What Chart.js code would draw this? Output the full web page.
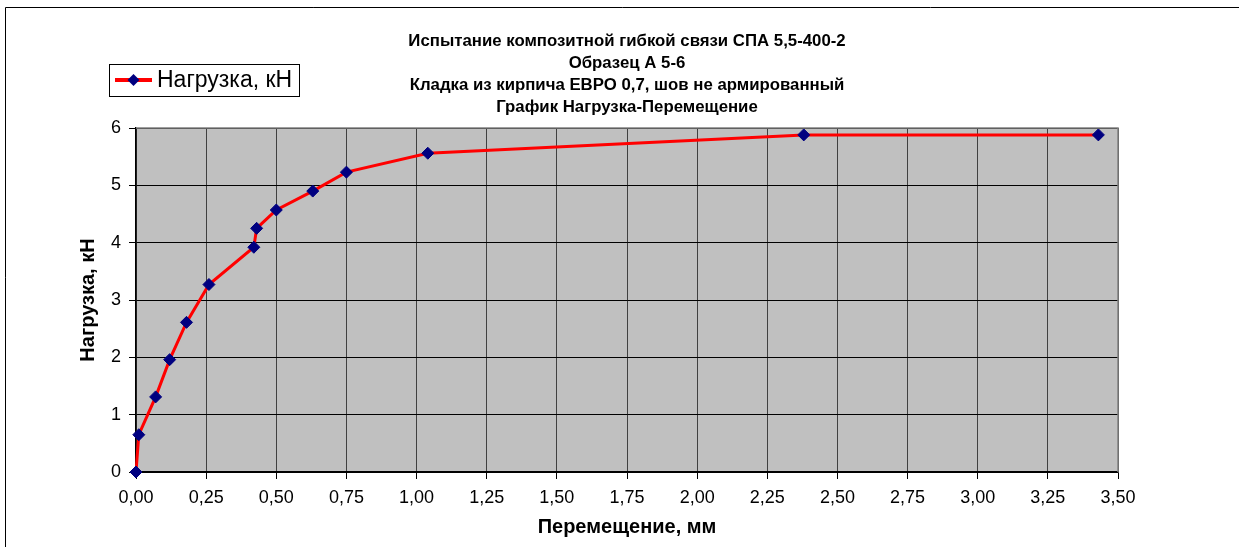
<!DOCTYPE html>
<html lang="ru">
<head>
    <meta charset="UTF-8">
    <title>График Нагрузка-Перемещение</title>
    <style>
        body { margin: 0; background: #fff; }
        #wrap { width: 1239px; height: 547px; }
    </style>
</head>
<body>
    <div id="wrap">
        <canvas id="grafico" width="1239" height="547"></canvas>
    </div>

<script src="https://cdn.jsdelivr.net/npm/chart.js"></script>
<script>
    // dados
    const perem = [0, 0.01, 0.07, 0.12, 0.18, 0.26, 0.42, 0.43, 0.50, 0.63, 0.75, 1.04, 2.38, 3.43];
    const nagruzka = [0, 0.65, 1.31, 1.96, 2.61, 3.27, 3.92, 4.25, 4.57, 4.90, 5.23, 5.56, 5.88, 5.88];

    const titulo = [
        'Испытание композитной гибкой связи СПА 5,5-400-2',
        'Образец А 5-6',
        'Кладка из кирпича ЕВРО 0,7, шов не армированный',
        'График Нагрузка-Перемещение'
    ];
    const nomeSerie = 'Нагрузка, кН';
    const tituloX = 'Перемещение, мм';
    const tituloY = 'Нагрузка, кН';

    const fonte = '"Liberation Sans", Arial, Helvetica, sans-serif';

    const pontos = perem.map((x, i) => ({ x: x, y: nagruzka[i] }));

    // fundo cinza, moldura e bordas da área do gráfico
    const fundoPlugin = {
        id: 'fundo',
        beforeDraw(chart) {
            const ctx = chart.ctx;
            const a = chart.chartArea;
            ctx.save();
            ctx.fillStyle = '#fff';
            ctx.fillRect(0, 0, chart.width, chart.height);
            ctx.strokeStyle = '#000';
            ctx.lineWidth = 1;
            ctx.beginPath();
            ctx.moveTo(5.5, chart.height);
            ctx.lineTo(5.5, 7.5);
            ctx.lineTo(chart.width, 7.5);
            ctx.stroke();
            ctx.fillStyle = '#C0C0C0';
            ctx.fillRect(a.left, a.top, a.right - a.left, a.bottom - a.top);
            ctx.restore();
        },
        afterDatasetsDraw(chart) {
            const ctx = chart.ctx;
            const a = chart.chartArea;
            ctx.save();
            ctx.strokeStyle = '#808080';
            ctx.lineWidth = 1.5;
            ctx.beginPath();
            ctx.moveTo(a.left, a.top);
            ctx.lineTo(a.right, a.top);
            ctx.lineTo(a.right, a.bottom);
            ctx.stroke();
            ctx.restore();
        }
    };

    // título em 4 linhas e legenda em caixa
    const textosPlugin = {
        id: 'textos',
        afterDraw(chart) {
            const ctx = chart.ctx;
            const a = chart.chartArea;
            ctx.save();
            ctx.fillStyle = '#000';
            ctx.textAlign = 'center';
            ctx.textBaseline = 'middle';
            ctx.font = 'bold 16.8px ' + fonte;
            const cx = (a.left + a.right) / 2;
            titulo.forEach((linha, i) => {
                ctx.fillText(linha, cx, 41 + i * 22);
            });

            // legenda
            const ds = chart.data.datasets[0];
            ctx.fillStyle = '#fff';
            ctx.fillRect(109, 64, 190, 32);
            ctx.strokeStyle = '#000';
            ctx.lineWidth = 1;
            ctx.strokeRect(109.5, 64.5, 190, 32);
            ctx.strokeStyle = ds.borderColor;
            ctx.lineWidth = 4;
            ctx.beginPath();
            ctx.moveTo(115, 80);
            ctx.lineTo(152, 80);
            ctx.stroke();
            ctx.fillStyle = ds.pointBackgroundColor;
            ctx.beginPath();
            ctx.moveTo(133.5, 74);
            ctx.lineTo(139.5, 80);
            ctx.lineTo(133.5, 86);
            ctx.lineTo(127.5, 80);
            ctx.closePath();
            ctx.fill();
            ctx.fillStyle = '#000';
            ctx.textAlign = 'left';
            ctx.font = '23px ' + fonte;
            ctx.fillText(ds.label, 157, 81);
            ctx.restore();
        }
    };

    const ctx = document.getElementById('grafico');
    new Chart(ctx, {
        type: 'scatter',
        data: {
            datasets: [{
                label: nomeSerie,
                data: pontos,
                showLine: true,
                borderColor: '#FF0000',
                borderWidth: 3,
                tension: 0,
                pointStyle: 'rectRot',
                pointRadius: 6,
                pointHoverRadius: 6,
                pointBackgroundColor: '#000080',
                pointBorderColor: '#000080',
                pointBorderWidth: 1,
                clip: false
            }]
        },
        options: {
            responsive: false,
            animation: false,
            devicePixelRatio: 1,
            layout: {
                padding: { left: 0, top: 128, right: 121, bottom: 0 }
            },
            plugins: {
                legend: { display: false },
                title: { display: false },
                tooltip: { enabled: false }
            },
            scales: {
                x: {
                    type: 'linear',
                    min: 0,
                    max: 3.5,
                    afterFit(scale) { scale.height = 75; },
                    ticks: {
                        stepSize: 0.25,
                        color: '#000',
                        padding: 8,
                        maxRotation: 0,
                        autoSkip: false,
                        font: { family: fonte, size: 18 },
                        callback: v => v.toFixed(2).replace('.', ',')
                    },
                    grid: {
                        color: '#404040',
                        lineWidth: 1,
                        tickLength: 7,
                        tickColor: '#000'
                    },
                    border: { color: '#000', width: 1.5 },
                    title: {
                        display: true,
                        text: tituloX,
                        color: '#000',
                        font: { family: fonte, size: 20, weight: 'bold' },
                        padding: { top: 0, bottom: 8 }
                    }
                },
                y: {
                    min: 0,
                    max: 6,
                    afterFit(scale) { scale.width = 136; },
                    ticks: {
                        stepSize: 1,
                        color: '#000',
                        padding: 8,
                        font: { family: fonte, size: 18 }
                    },
                    grid: {
                        color: '#000',
                        lineWidth: 1,
                        tickLength: 7,
                        tickColor: '#000'
                    },
                    border: { color: '#000', width: 1.5 },
                    title: {
                        display: true,
                        text: tituloY,
                        color: '#000',
                        font: { family: fonte, size: 20, weight: 'bold' },
                        padding: { top: 76, bottom: 0 }
                    }
                }
            }
        },
        plugins: [fundoPlugin, textosPlugin]
    });
</script>
</body>
</html>
